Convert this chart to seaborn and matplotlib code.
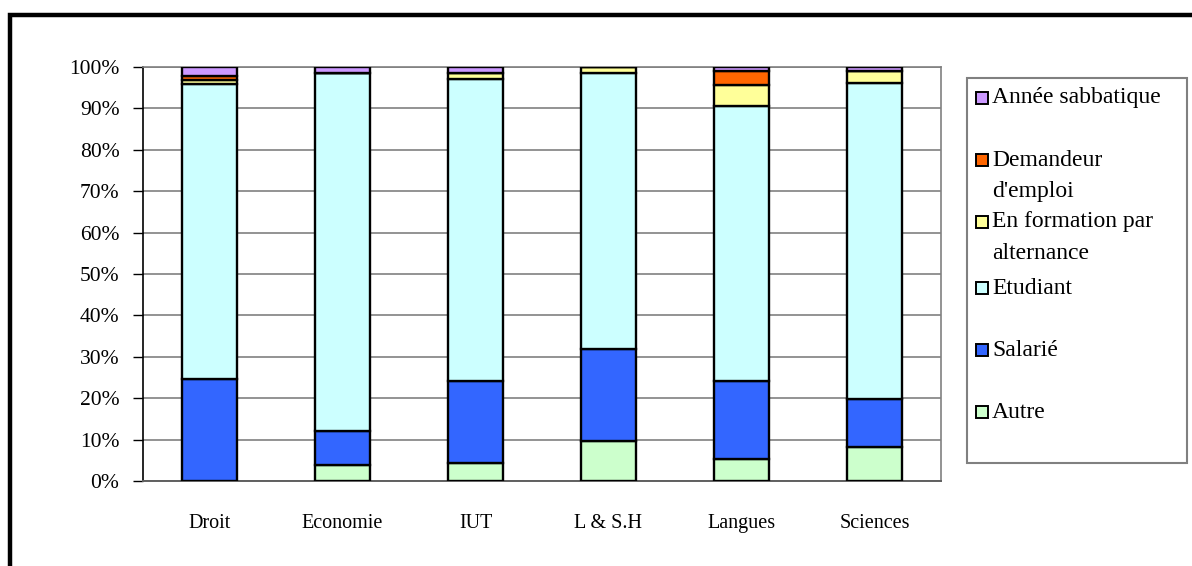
import matplotlib
matplotlib.use("Agg")
import matplotlib.pyplot as plt
import seaborn as sns
import numpy as np
import pandas as pd
from matplotlib.patches import Rectangle

categories = ["Droit", "Economie", "IUT", "L & S.H", "Langues", "Sciences"]
series_names = ["Autre", "Salarié", "Etudiant", "En formation par alternance",
                "Demandeur d'emploi", "Année sabbatique"]
autre      = [0.0, 3.8, 4.3, 9.7, 5.3, 8.1]
salarie    = [24.6, 8.3, 19.9, 22.1, 18.9, 11.6]
etudiant   = [71.4, 86.5, 72.9, 66.8, 66.5, 76.4]
alternance = [0.8, 0.0, 1.5, 1.4, 5.0, 2.9]
demandeur  = [1.0, 0.0, 0.0, 0.0, 3.3, 0.0]
sabbatique = [2.2, 1.4, 1.4, 0.0, 1.0, 1.0]
colors = ["#CCFFCC", "#3366FF", "#CCFFFF", "#FFFF99", "#FF6600", "#CC99FF"]
legend_labels = ["Année sabbatique", "Demandeur\nd'emploi", "En formation par\nalternance",
                 "Etudiant", "Salarié", "Autre"]
legend_colors = ["#CC99FF", "#FF6600", "#FFFF99", "#CCFFFF", "#3366FF", "#CCFFCC"]

sns.set_theme(style="white")
plt.rcParams["font.family"] = ["Liberation Serif", "DejaVu Serif"]
plt.rcParams["text.color"] = "black"

W, H = 1192, 566
fig = plt.figure(figsize=(W / 100, H / 100), dpi=100)
ax = fig.add_axes([143 / W, 1 - 481 / H, (941 - 143) / W, (481 - 67) / H])

series = [autre, salarie, etudiant, alternance, demandeur, sabbatique]
bottom = np.zeros(len(categories))
for vals, col in zip(series, colors):
    vals = np.asarray(vals, dtype=float)
    df = pd.DataFrame({"cat": categories, "val": vals})
    sns.barplot(data=df, x="cat", y="val", bottom=bottom, color=col, width=0.41,
                edgecolor="black", linewidth=1.7, saturation=1, ax=ax, zorder=3)
    bottom = bottom + vals

ax.set_xlim(-0.5, 5.5)
ax.set_ylim(0, 100)
ax.set_yticks(np.arange(0, 101, 10))
ax.set_yticklabels([f"{v}%" for v in range(0, 101, 10)], fontsize=15.5)
ax.yaxis.grid(True, color="#808080", linewidth=1.2, zorder=0)
ax.set_axisbelow(True)
ax.set_xlabel("")
ax.set_ylabel("")
ax.set_xticks(range(len(categories)))
ax.set_xticklabels(categories, fontsize=14.5)
ax.tick_params(axis="x", which="major", length=0, pad=24)
ax.set_xticks(np.arange(-0.5, 6, 1), minor=True)
ax.tick_params(axis="x", which="minor", length=7, width=1, color="black", direction="out")
ax.tick_params(axis="y", which="major", length=7, width=1, color="black", direction="out", pad=10, left=True)
for side in ["top", "right"]:
    ax.spines[side].set_color("#808080")
    ax.spines[side].set_linewidth(1.2)
ax.spines["left"].set_color("black")
ax.spines["left"].set_linewidth(1.2)
ax.spines["bottom"].set_color("#606060")
ax.spines["bottom"].set_linewidth(1.4)
for t in ax.get_xticklabels() + ax.get_yticklabels():
    t.set_color("black")

# legend box
fig.patches.append(Rectangle((967 / W, 1 - 463 / H), (1187 - 967) / W, (463 - 78) / H,
                             transform=fig.transFigure, fill=False, edgecolor="#808080",
                             linewidth=1.5))
LFS = 17
ys = [98, 160, 222, 288, 350, 412]
for lab, col, y in zip(legend_labels, legend_colors, ys):
    fig.patches.append(Rectangle((976 / W, 1 - (y + 6) / H), 12 / W, 12 / H,
                                 transform=fig.transFigure, facecolor=col,
                                 edgecolor="black", linewidth=1.4))
    if "\n" in lab:
        first, second = lab.split("\n")
        fig.text(992 / W, 1 - y / H, first, fontsize=LFS, va="center", ha="left")
        fig.text(992 / W, 1 - (y + 31) / H, second, fontsize=LFS, va="center", ha="left")
    else:
        fig.text(992 / W, 1 - y / H, lab, fontsize=LFS, va="center", ha="left")

# outer frame
fig.patches.append(Rectangle((10 / W, -0.2), 1.5, 1 - 15 / H + 0.2, transform=fig.transFigure,
                             fill=False, edgecolor="black", linewidth=3.2))

fig.savefig("out.png", dpi=100)
